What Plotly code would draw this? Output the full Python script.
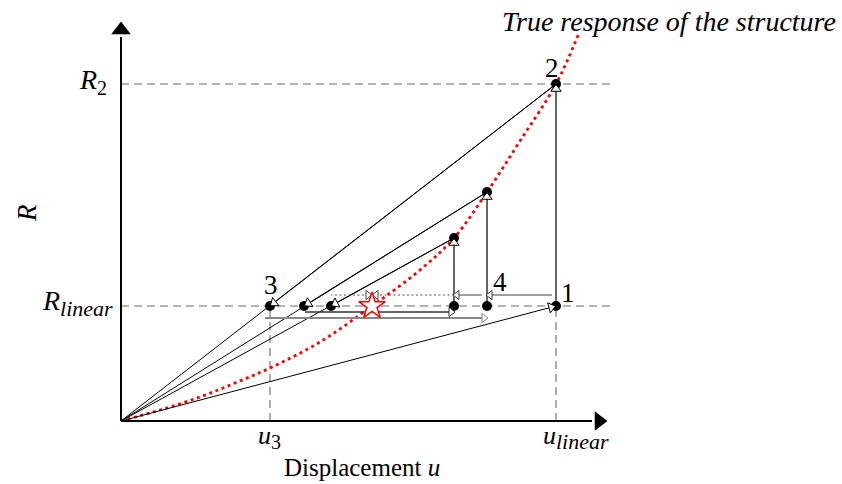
import plotly.graph_objects as go

# ---- values (normalised so that u_linear = 1 and R_linear = 1) ----
u_linear = 1.0
u_3 = 0.3425
R_linear = 1.0
R_2 = 2.93

# corrected displacements and the true response reached there
trial_u = [0.8414, 0.7655]
trial_R = [1.991, 1.591]
# where each secant comes back down to R = R_linear
secant_u = [u_3, 0.4207, 0.4828]
# converged state on the true curve
solution_u = 0.577

# true (nonlinear) response of the structure
curve_u = [0.0, 0.0897, 0.1816, 0.2621, 0.3425, 0.4575, 0.5770,
           0.6874, 0.7655, 0.8414, 0.9172, 1.0, 1.0529]
curve_R = [0.0, 0.0957, 0.2087, 0.3304, 0.4609, 0.6870, 1.0,
           1.3130, 1.5913, 1.9913, 2.4348, 2.93, 3.3739]

SUB = '<sub><span style="font-size:{}px">{}</span></sub>'
x_labels = ["<i>u</i>" + SUB.format(20, "3"),
            "<i>u</i>" + SUB.format(22, "<i>linear</i>")]
y_labels = ["<i>R</i>" + SUB.format(20, "2"),
            "<i>R</i>" + SUB.format(22, "<i>linear</i>")]

# ---- layout helpers ----
W, H = 842, 484
X0_PX, Y0_PX = 121, 421          # origin on the page
SX, SY = 435.0, 115.0            # px per unit
XR = [-X0_PX / SX, (W - X0_PX) / SX]
YR = [-(H - Y0_PX) / SY, Y0_PX / SY]

FONT = "Liberation Serif"
GUIDE = dict(color="#9a9a9a", width=1.6, dash="8px,5px")

fig = go.Figure()


def line(xs, ys, color="black", width=1.0, dash="solid"):
    fig.add_trace(go.Scatter(x=xs, y=ys, mode="lines", hoverinfo="skip",
                             line=dict(color=color, width=width, dash=dash)))


def arrow(x0, y0, x1, y1, color="black", width=1.0, dash="solid",
          size=9, standoff=0):
    fig.add_trace(go.Scatter(
        x=[x0, x1], y=[y0, y1], mode="lines+markers", hoverinfo="skip",
        line=dict(color=color, width=width, dash=dash),
        marker=dict(symbol="triangle-up", size=size, angleref="previous",
                    standoff=standoff, color="white", opacity=[0, 1],
                    line=dict(color=color, width=1))))


# dashed guide lines
x_guide_end = (610 - X0_PX) / SX
line([0, x_guide_end], [R_linear, R_linear], **GUIDE)
line([0, x_guide_end], [R_2, R_2], **GUIDE)
line([u_3, u_3], [0, R_linear], **GUIDE)
line([u_linear, u_linear], [0, R_linear], **GUIDE)

# true response curve
fig.add_trace(go.Scatter(x=curve_u, y=curve_R, mode="lines", hoverinfo="skip",
                         line=dict(color="#ff0000", width=2.8, dash="3px,3.6px",
                                   shape="spline", smoothing=1.0)))

# secant lines from the origin
line([0, u_linear], [0, R_2])
line([0, trial_u[0]], [0, trial_R[0]])
line([0, trial_u[1]], [0, trial_R[1]])

# points on the diagram
dots_u = [u_linear, u_linear, u_3, secant_u[1], secant_u[2],
          trial_u[0], trial_u[1], trial_u[0], trial_u[1]]
dots_R = [R_linear, R_2, R_linear, R_linear, R_linear,
          R_linear, R_linear, trial_R[0], trial_R[1]]
fig.add_trace(go.Scatter(x=dots_u, y=dots_R, mode="markers", hoverinfo="skip",
                         marker=dict(color="black", size=10)))

# linear prediction: origin -> point 1
arrow(0, 0, u_linear, R_linear, standoff=5)
# vertical jumps onto the true curve
arrow(u_linear, R_linear, u_linear, R_2, width=1.2, standoff=5)
arrow(trial_u[0], R_linear, trial_u[0], trial_R[0], width=1.2, standoff=5)
arrow(trial_u[1], R_linear, trial_u[1], trial_R[1], width=1.2, standoff=5)
# secants back down to R_linear
arrow(u_linear, R_2, secant_u[0], R_linear, standoff=5)
arrow(trial_u[0], trial_R[0], secant_u[1], R_linear, standoff=5)
arrow(trial_u[1], trial_R[1], secant_u[2], R_linear, standoff=5)

# displacement corrections (upper row)
y_top = (Y0_PX - 295) / SY
arrow(u_linear - 4 / SX, y_top, trial_u[0], y_top, color="#444", size=8, standoff=3)
arrow(trial_u[0] - 5 / SX, y_top, trial_u[1], y_top, color="#444", size=8, standoff=3)
line([trial_u[1], secant_u[2]], [y_top, y_top], color="#555", width=1.2, dash="2px,2.5px")
arrow(secant_u[2], y_top, solution_u, y_top, color="#444", width=0.01, size=8, standoff=4)
arrow(trial_u[1], y_top, solution_u, y_top, color="#444", width=0.01, size=8, standoff=4)

# displacement increments (lower rows)
y_a = (Y0_PX - 312) / SY
y_b = (Y0_PX - 318) / SY
arrow(secant_u[1] + 1 / SX, y_a, trial_u[1], y_a, color="#333", width=1.3, size=8, standoff=3)
arrow(u_3 - 5 / SX, y_b, trial_u[0], y_b, color="#888", width=2.2, size=8, standoff=3)

# converged solution
fig.add_trace(go.Scatter(x=[solution_u], y=[R_linear], mode="markers", hoverinfo="skip",
                         marker=dict(symbol="star", size=20, color="white",
                                     line=dict(color="#ff0000", width=1.5))))

# coordinate axes with filled arrowheads
ax_x_end = (592 - X0_PX) / SX
ax_y_end = (Y0_PX - 37) / SY
line([0, ax_x_end], [0, 0], width=2)
line([0, 0], [0, ax_y_end], width=2)
fig.add_trace(go.Scatter(x=[(599 - X0_PX) / SX], y=[0], mode="markers", hoverinfo="skip",
                         marker=dict(symbol="triangle-right", size=17, color="black")))
fig.add_trace(go.Scatter(x=[0], y=[(Y0_PX - 30) / SY], mode="markers", hoverinfo="skip",
                         marker=dict(symbol="triangle-up", size=17, color="black")))

# ---- text ----
ann = []


def label(x, y, text, xanchor="center", yanchor="middle", xshift=0, yshift=0,
          size=24, textangle=0, xref="x", yref="y"):
    ann.append(dict(x=x, y=y, xref=xref, yref=yref, text=text, showarrow=False,
                    xanchor=xanchor, yanchor=yanchor, xshift=xshift, yshift=yshift,
                    textangle=textangle,
                    font=dict(family=FONT, size=size, color="black")))


label(0, R_2, y_labels[0], xanchor="right", xshift=-12, yshift=3, size=28)
label(0, R_linear, y_labels[1], xanchor="right", xshift=-6, yshift=3, size=28)
label(u_3, 0, x_labels[0], yanchor="top", yshift=2, size=26)
label(u_linear, 0, x_labels[1], xanchor="left", xshift=-15, yshift=2, yanchor="top", size=26)
label(u_linear, R_linear, "1", xshift=12, yshift=13, size=27)
label(u_linear, R_2, "2", xshift=-4, yshift=16, size=27)
label(u_3, R_linear, "3", xshift=1, yshift=21, size=27)
label(trial_u[0], R_linear, "4", xshift=13, yshift=24, size=27)
label((362 - X0_PX) / SX, (Y0_PX - 467) / SY, "Displacement <i>u</i>", size=25)
label((27 - X0_PX) / SX, (Y0_PX - 213) / SY, "<i>R</i>", textangle=-90, size=27)
label(1.0, 1.0, "<i>True response of the structure</i>", xref="paper", yref="paper",
      xanchor="right", yanchor="top", xshift=-4, yshift=-4, size=28)

fig.update_layout(
    width=W, height=H, margin=dict(l=0, r=0, t=0, b=0),
    plot_bgcolor="white", paper_bgcolor="white", showlegend=False,
    font=dict(family=FONT),
    xaxis=dict(range=XR, visible=False, fixedrange=True),
    yaxis=dict(range=YR, visible=False, fixedrange=True),
    annotations=ann,
)

fig.write_html("out.html")
